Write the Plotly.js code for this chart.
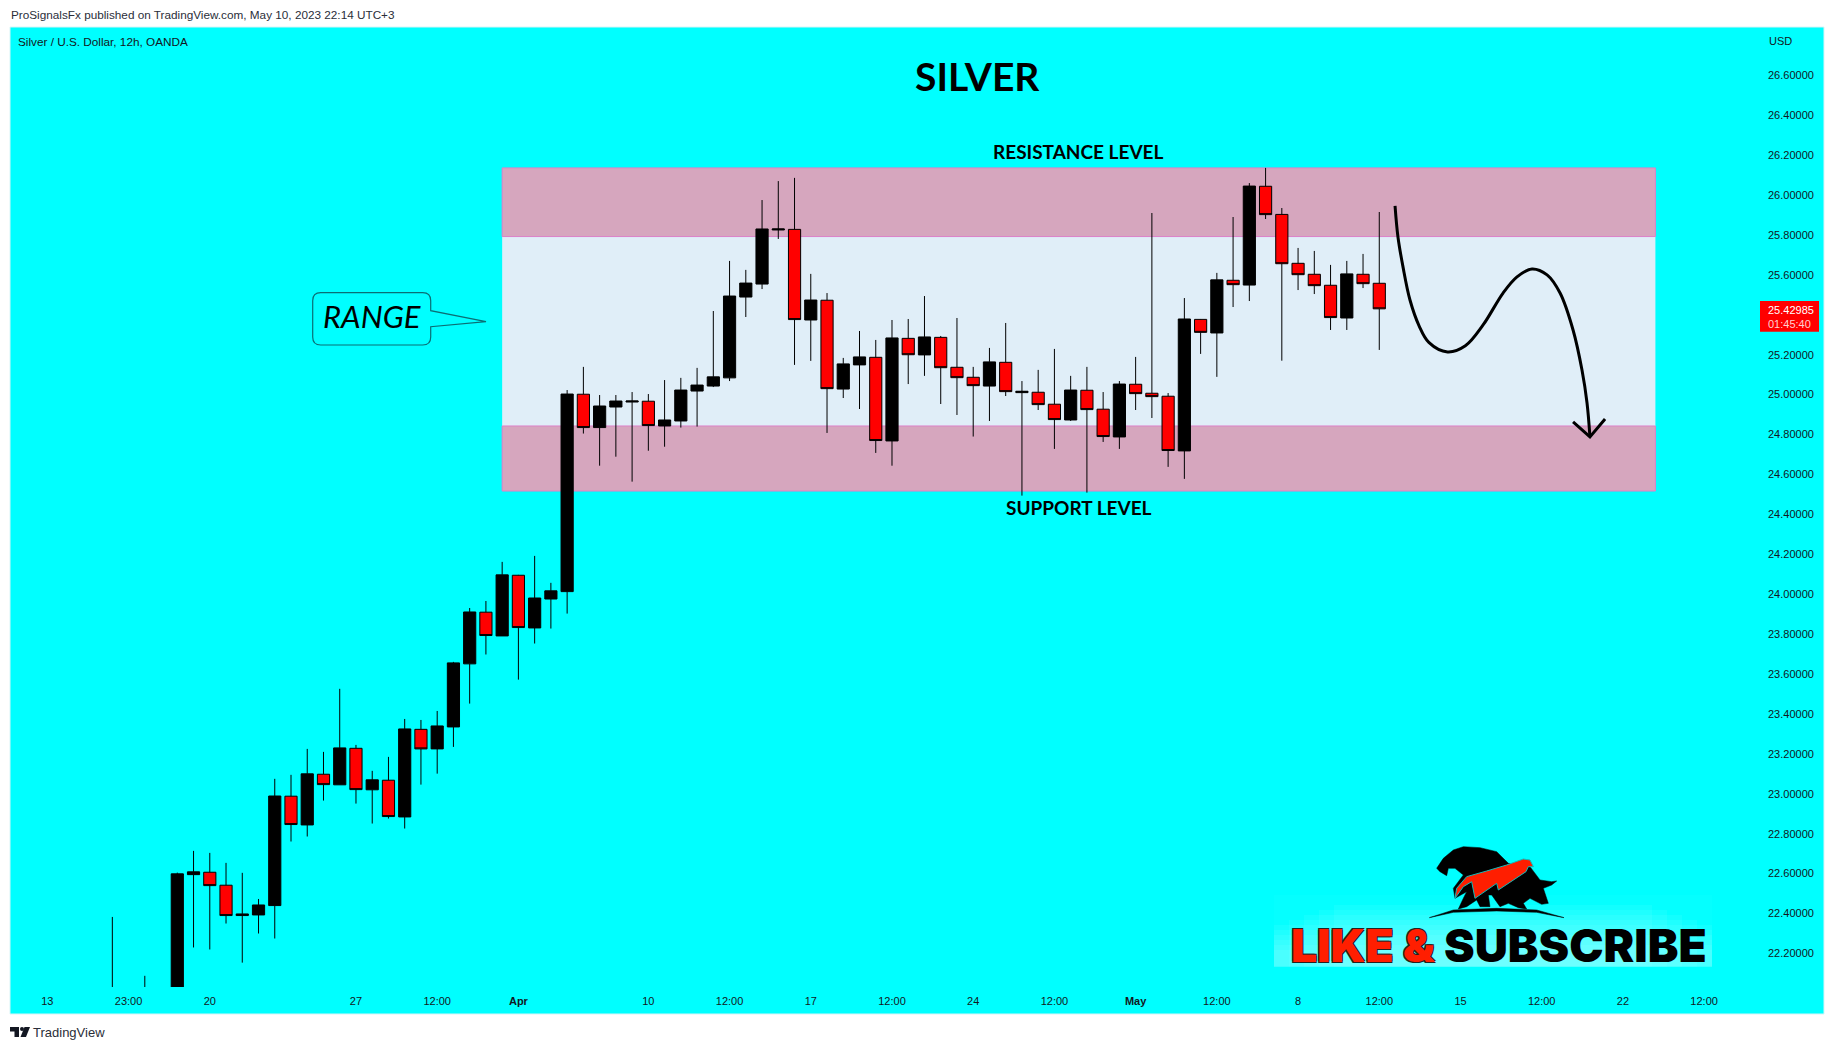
<!DOCTYPE html>
<html>
<head>
<meta charset="utf-8">
<script src="https://cdn.plot.ly/plotly-3.0.1.min.js"></script>
<style>html,body{margin:0;padding:0;background:#fff}#chart{width:1834px;height:1050px}</style>
</head>
<body>
<div id="chart"></div>
<script>
// Bar position on the time axis (12h bars counted from the first visible body)
const barIndex = [-4,-2,0,1,2,3,4,5,6,7,8,9,10,11,12,13,14,15,16,17,18,19,20,21,22,23,24,25,26,27,28,29,30,31,32,33,34,35,36,37,38,39,40,41,42,43,44,45,46,47,48,49,50,51,52,53,54,55,56,57,58,59,60,61,62,63,64,65,66,67,68,69,70,71,72,73,74];
const openPrice = [21.90,21.90,21.95,22.595,22.607,22.542,22.390,22.393,22.440,22.988,22.844,23.098,23.045,23.228,23.020,23.068,22.884,23.323,23.225,23.335,23.651,23.910,23.791,24.095,23.831,23.976,24.013,25.002,24.835,24.938,24.963,24.967,24.843,24.868,25.018,25.043,25.084,25.489,25.554,25.825,25.828,25.374,25.473,25.028,25.149,25.187,24.768,25.282,25.199,25.287,25.137,25.087,25.043,25.162,25.010,25.012,24.952,24.873,25.022,24.927,24.788,25.052,25.007,24.992,24.718,25.377,25.309,25.573,25.549,26.044,25.903,25.658,25.603,25.548,25.384,25.603,25.558];
const highPrice = [22.383,22.088,22.605,22.714,22.704,22.654,22.604,22.473,23.075,23.095,23.225,23.210,23.526,23.245,23.115,23.185,23.375,23.370,23.415,23.661,23.931,23.966,24.162,24.097,24.192,24.057,25.023,25.139,24.998,24.998,25.013,25.003,25.073,25.084,25.134,25.419,25.670,25.625,25.975,26.070,26.086,25.605,25.509,25.184,25.319,25.274,25.374,25.379,25.494,25.294,25.384,25.139,25.234,25.359,25.068,25.124,25.229,25.094,25.139,25.013,25.068,25.189,25.910,25.008,25.484,25.379,25.610,25.890,26.060,26.136,25.935,25.735,25.720,25.650,25.670,25.705,25.915];
const lowPrice = [21.85,21.85,21.90,22.230,22.220,22.350,22.154,22.300,22.275,22.761,22.786,22.966,23.045,22.951,22.851,22.876,22.826,23.046,23.101,23.235,23.452,23.698,23.791,23.572,23.753,23.828,23.903,24.805,24.644,24.689,24.564,24.719,24.739,24.835,24.840,25.038,25.068,25.389,25.529,25.780,25.149,25.169,24.808,24.983,24.928,24.708,24.644,25.053,25.094,24.953,24.898,24.790,24.868,24.993,24.494,24.923,24.728,24.868,24.509,24.763,24.728,24.923,24.883,24.638,24.578,25.204,25.089,25.439,25.469,25.880,25.170,25.524,25.504,25.324,25.324,25.534,25.224];
const closePrice = [21.95,21.95,22.599,22.609,22.540,22.390,22.398,22.443,22.989,22.846,23.100,23.046,23.230,23.021,23.070,22.886,23.325,23.225,23.340,23.656,23.911,23.793,24.097,23.833,23.981,24.017,25.003,24.835,24.943,24.968,24.968,24.845,24.873,25.023,25.048,25.089,25.494,25.559,25.830,25.830,25.376,25.474,25.030,25.154,25.189,24.770,25.284,25.200,25.289,25.135,25.085,25.045,25.164,25.015,25.017,24.950,24.875,25.023,24.925,24.790,25.053,25.005,24.990,24.720,25.379,25.312,25.575,25.551,26.045,25.902,25.656,25.601,25.546,25.386,25.605,25.556,25.42985];

const xTickPos = [-8,-3,2,11,16,21,29,34,39,44,49,54,59,64,69,74,79,84,89,94];
const xTickText = ['13','23:00','20','27','12:00','<b>Apr</b>','10','12:00','17','12:00','24','12:00','<b>May</b>','12:00','8','12:00','15','12:00','22','12:00'];
const yTickPos = [22.2,22.4,22.6,22.8,23.0,23.2,23.4,23.6,23.8,24.0,24.2,24.4,24.6,24.8,25.0,25.2,25.6,25.8,26.0,26.2,26.4,26.6];

// Drawn zones (bar index and price)
const zoneStart = 20, zoneEnd = 91;
const resistanceTop = 26.136, resistanceBottom = 25.792;
const supportTop = 24.843, supportBottom = 24.517;

// Hand-drawn forecast arrow
const pathX = [74.97,75.15,75.46,75.89,76.45,77.05,78.20,79.30,80.39,81.62,82.48,83.40,84.33,85.13,85.93,86.48,86.79,86.97];
const pathY = [25.946,25.790,25.640,25.474,25.345,25.262,25.214,25.245,25.349,25.509,25.590,25.630,25.600,25.509,25.324,25.123,24.958,24.788];
const headX = [85.93,86.97,87.90];
const headY = [24.863,24.788,24.878];

// Plot box in page pixels and helpers for page-anchored furniture
const L = 10, R = 1758, T = 27, B = 987;
const PX = p => (p - L) / (R - L);
const PY = p => 1 - (p - T) / (B - T);
const path = (pts) => 'M' + pts.map(p => PX(p[0]).toFixed(5) + ',' + PY(p[1]).toFixed(5)).join(' L') + ' Z';
const zoomPath = (pts) => path(pts.map(p => [1420 + p[0] / 3, 835 + p[1] / 3]));
const rect = (x0, y0, x1, y1, fill, line) => ({type:'rect', xref:'paper', yref:'paper', x0:PX(x0), x1:PX(x1), y0:PY(y1), y1:PY(y0), fillcolor:fill, line:{width:line?1:0, color:line||'rgba(0,0,0,0)'}, layer:'below'});
const note = (text, x, y, anchor, size, color, extra) => Object.assign({xref:'paper', yref:'paper', x:PX(x), y:PY(y), xanchor:anchor, yanchor:'middle', showarrow:false, text, borderpad:0, font:{family:'"Liberation Sans"', size, color}}, extra||{});

const candles = {
  type:'candlestick', x:barIndex, open:openPrice, high:highPrice, low:lowPrice, close:closePrice,
  whiskerwidth:0, hoverinfo:'skip', showlegend:false,
  increasing:{line:{color:'#000000', width:1}, fillcolor:'#000000'},
  decreasing:{line:{color:'#000000', width:1}, fillcolor:'#FF0000'}
};
const arrowLine = {type:'scatter', mode:'lines', x:pathX, y:pathY, line:{color:'#000', width:3, shape:'spline', smoothing:1}, hoverinfo:'skip', showlegend:false};
const arrowHead = {type:'scatter', mode:'lines', x:headX, y:headY, line:{color:'#000', width:3}, hoverinfo:'skip', showlegend:false};

const r = 8, bx0 = 312.7, bx1 = 430.7, by0 = 292.7, by1 = 345;
const calloutPath = (() => {
  const X = v => PX(v).toFixed(5), Y = v => PY(v).toFixed(5);
  const Q = (cx, cy, x, y) => `Q${X(cx)},${Y(cy)} ${X(x)},${Y(y)}`;
  return `M${X(bx0 + r)},${Y(by0)} L${X(bx1 - r)},${Y(by0)} ${Q(bx1, by0, bx1, by0 + r)} L${X(bx1)},${Y(310.7)} L${X(486)},${Y(321.7)} L${X(bx1)},${Y(326.7)} L${X(bx1)},${Y(by1 - r)} ${Q(bx1, by1, bx1 - r, by1)} L${X(bx0 + r)},${Y(by1)} ${Q(bx0, by1, bx0, by1 - r)} L${X(bx0)},${Y(by0 + r)} ${Q(bx0, by0, bx0 + r, by0)} Z`;
})();

const animals = [[50,100],[70,70],[100,45],[130,35],[180,38],[230,50],[265,85],[330,95],[360,135],[395,140],[410,138],[395,150],[370,160],[385,205],[365,208],[330,190],[310,205],[320,222],[295,218],[265,205],[240,215],[215,180],[205,180],[210,215],[180,215],[170,195],[140,215],[115,222],[130,190],[140,170],[105,190],[100,160],[130,120],[105,100],[85,100],[80,122],[60,110]];
const swoosh = [[105,190],[110,160],[140,125],[200,108],[260,90],[310,72],[330,75],[340,95],[325,95],[318,110],[235,165],[230,145],[165,190],[155,140],[130,155]];
const ground = [[28,248],[100,225],[230,220],[350,225],[432,248],[350,232],[230,228],[100,232]];

// Soft glow behind the logo: stacked translucent layers
const glow = [];
[905,910,915,920,925,930,935,940,945,950].forEach((top, k) => {
  const inset = k < 4 ? 60 - k * 15 : 0;
  glow.push(rect(1274 + inset, top, 1712 - inset, 966.7, 'rgba(255,255,255,0.055)'));
});
glow.push(rect(1274, 895, 1712, 966.7, 'rgba(255,255,255,0.02)'));

const shapes = [
  rect(10, 27, 1824, 1014, '#00FFFF', '#D8F4F6'),
  {type:'rect', xref:'x', yref:'y', x0:zoneStart, x1:zoneEnd, y0:resistanceBottom, y1:supportTop, fillcolor:'#E0EEF8', line:{width:0}, layer:'below'},
  {type:'rect', xref:'x', yref:'y', x0:zoneStart, x1:zoneEnd, y0:resistanceBottom, y1:resistanceTop, fillcolor:'#D6A6BE', line:{width:1, color:'#DE80C8'}, layer:'below'},
  {type:'rect', xref:'x', yref:'y', x0:zoneStart, x1:zoneEnd, y0:supportBottom, y1:supportTop, fillcolor:'#D6A6BE', line:{width:1, color:'#DE80C8'}, layer:'below'},
  ...glow,
  {type:'path', xref:'paper', yref:'paper', path:calloutPath, fillcolor:'rgba(0,255,255,1)', line:{color:'#0B6E74', width:1.2}},
  {type:'path', xref:'paper', yref:'paper', path:zoomPath(animals), fillcolor:'#000', line:{color:'#000', width:0.5}},
  {type:'path', xref:'paper', yref:'paper', path:zoomPath(swoosh), fillcolor:'#FF1E00', line:{color:'#16B8B8', width:1}},
  {type:'path', xref:'paper', yref:'paper', path:zoomPath(ground), fillcolor:'#000', line:{color:'#000', width:0.5}},
  {type:'path', xref:'paper', yref:'paper', path:path([[10,1027],[19,1027],[19,1037],[14.5,1037],[14.5,1031.5],[10,1031.5]]), fillcolor:'#131722', line:{width:0}},
  {type:'path', xref:'paper', yref:'paper', path:path([[24.5,1027],[30,1027],[26,1037],[20.5,1037]]), fillcolor:'#131722', line:{width:0}},
  {type:'circle', xref:'paper', yref:'paper', x0:PX(20), x1:PX(24), y0:PY(1031), y1:PY(1027), fillcolor:'#131722', line:{width:0}},
  rect(1760, 301, 1819, 331.7, '#FF0000')
];
shapes[shapes.length-1].layer = 'above';

const outline = '-1px -1px 0 #222,1px -1px 0 #222,-1px 1px 0 #222,1px 1px 0 #222';
const annotations = [
  note('ProSignalsFx published on TradingView.com, May 10, 2023 22:14 UTC+3', 10, 14.7, 'left', 11.75, '#2A2E39'),
  note('Silver / U.S. Dollar, 12h, OANDA', 17, 41.7, 'left', 11.75, '#131722'),
  note('USD', 1781, 40.7, 'center', 11, '#131722'),
  note('SILVER', 977, 75.5, 'center', 39, '#000', {font:{family:'Lato', size:39, color:'#000', weight:700}}),
  note('RESISTANCE LEVEL', 1078.5, 151, 'center', 19, '#000', {font:{family:'Lato', size:19, color:'#000', weight:700}}),
  note('SUPPORT LEVEL', 1078.5, 507, 'center', 19, '#000', {font:{family:'Lato', size:19, color:'#000', weight:700}}),
  note('RANGE', 372, 316, 'center', 31, '#000', {font:{family:'Lato', size:31, color:'#000', style:'italic'}}),
  note('25.42985', 1767, 309.7, 'left', 11, '#FFFFFF'),
  note('01:45:40', 1767, 323.7, 'left', 11, '#FFD0D0'),
  note('LIKE &', 1290, 945, 'left', 46, '#FF1E00', {font:{family:'Inter', size:46, color:'#FF1E00', weight:900, shadow:outline}}),
  note('SUBSCRIBE', 1443, 945, 'left', 46, '#000', {font:{family:'Inter', size:46, color:'#000', weight:900}}),
  note('TradingView', 32, 1032.5, 'left', 13, '#2A2E39')
];

const layout = {
  width:1834, height:1050, autosize:false, showlegend:false,
  paper_bgcolor:'#FFFFFF', plot_bgcolor:'rgba(0,0,0,0)',
  margin:{l:L, r:1834 - R, t:T, b:1050 - B, pad:0},
  boxgap:0.25, boxgroupgap:0,
  xaxis:{type:'linear', range:[(L - 177.3) / 16.243, (R - 177.3) / 16.243], rangeslider:{visible:false}, showgrid:false, zeroline:false, showline:false, ticks:'', tickmode:'array', tickvals:xTickPos, ticktext:xTickText, ticklabelstandoff:6, tickfont:{family:'"Liberation Sans"', size:11, color:'#131722'}},
  yaxis:{type:'linear', side:'right', range:[22.032, 26.842], showgrid:false, zeroline:false, showline:false, ticks:'', tickmode:'array', tickvals:yTickPos, ticktext:yTickPos.map(v => v.toFixed(5)), ticklabelstandoff:9, tickfont:{family:'"Liberation Sans"', size:11, color:'#131722'}},
  shapes, annotations
};
Plotly.newPlot('chart', [candles, arrowLine, arrowHead], layout, {displayModeBar:false, staticPlot:true});
</script>
</body>
</html>
